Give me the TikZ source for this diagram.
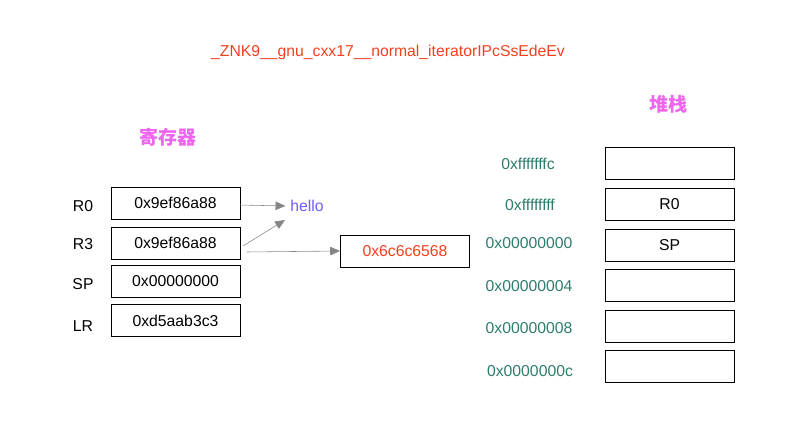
\documentclass[tikz,border=0pt]{standalone}
\usepackage{fontspec}
\setmainfont{Liberation Sans}
\newfontfamily\cjk{Noto Sans CJK SC}
\usepackage{tikz}
\usetikzlibrary{arrows.meta}

\definecolor{symred}{HTML}{F2401E}
\definecolor{titlepink}{HTML}{EE66EE}
\definecolor{strblue}{HTML}{6E5CFF}
\definecolor{addrteal}{HTML}{2E7D6D}
\definecolor{arrowgray}{HTML}{858585}

\begin{document}
\begin{tikzpicture}
  [x=0.025cm,y=-0.025cm,font=\fontsize{11.2}{13}\selectfont,
   cell/.style={draw,semithick,minimum width=3.225cm,minimum height=0.8cm,inner sep=0pt},
   title/.style={text=titlepink,font=\cjk\bfseries\fontsize{13.5}{15}\selectfont},
   addr/.style={text=addrteal},
   ptr/.style={draw=arrowgray,-{Triangle[length=7pt,width=6pt]}}]
\useasboundingbox (0,0) rectangle (797,426);

\node [text=symred] (sym) at (388,52) {\_ZNK9\_\_gnu\_cxx17\_\_normal\_iteratorIPcSsEdeEv};

% registers
\node [title]  (regs) at (168,137) {寄存器};
\node []       (nR0) at (83,206) {R0};
\node []       (nR3) at (83,244) {R3};
\node []       (nSP) at (83,284) {SP};
\node []       (nLR) at (83,326) {LR};
\node [cell]   (R0) at (175.5,203) {0x9ef86a88};
\node [cell]   (R3) at (175.5,243) {0x9ef86a88};
\node [cell]   (SP) at (175.5,281.5) {0x00000000};
\node [cell]   (LR) at (175.5,320.5) {0xd5aab3c3};

\node [text=strblue] (hello) at (307,206) {hello};
\node [cell,text=symred] (mem) at (405,251) {0x6c6c6568};

\coordinate (r0out)  at (240,205) ;
\coordinate (r3out)  at (243,246) ;
\coordinate (r3out2) at (247,252) ;
\coordinate (hin)    at (285,220) ;
\draw [ptr] (r0out) -- (hello.west) ;
\draw [ptr] (r3out) -- (hin) ;
\draw [ptr] (r3out2) -- (mem.west) ;

% stack
\node [title] (stack) at (668,104) {堆栈};
\node [addr]  (a0) at (528,164) {0xfffffffc};
\node [addr]  (a1) at (530,205) {0xffffffff};
\node [addr]  (a2) at (529,243) {0x00000000};
\node [addr]  (a3) at (529,286) {0x00000004};
\node [addr]  (a4) at (529,328) {0x00000008};
\node [addr]  (a5) at (530,371) {0x0000000c};
\node [cell]  (s0) at (669.5,163) {};
\node [cell]  (s1) at (669.5,204) {R0};
\node [cell]  (s2) at (669.5,245) {SP};
\node [cell]  (s3) at (669.5,285) {};
\node [cell]  (s4) at (669.5,326) {};
\node [cell]  (s5) at (669.5,366.5) {};
\end{tikzpicture}
\end{document}
